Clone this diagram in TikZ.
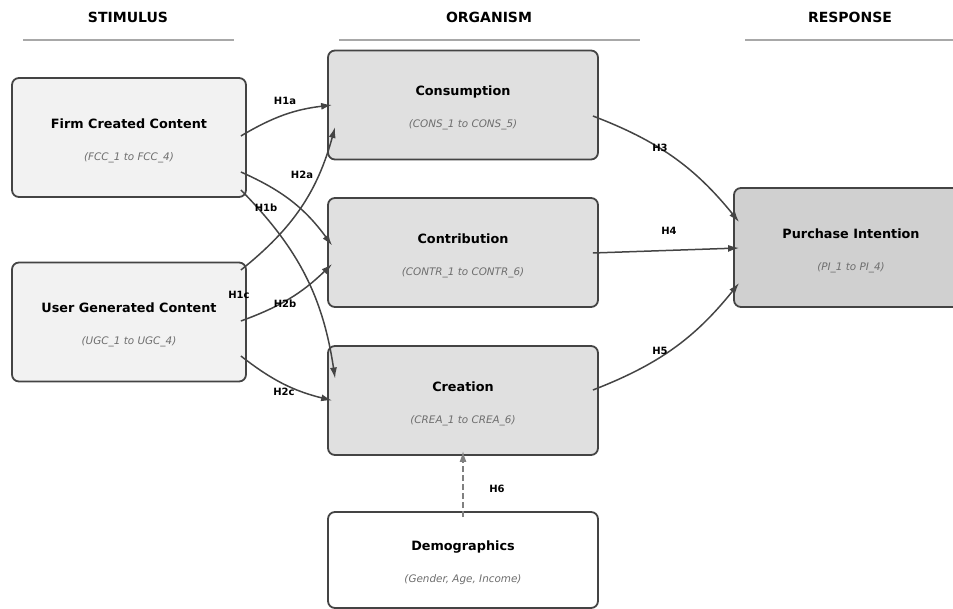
\documentclass[tikz,border=0pt]{standalone}
\usepackage{fontspec}
\setmainfont{DejaVu Sans}
\usepackage{xcolor}
\usepackage{tikz}
\usetikzlibrary{positioning,arrows.meta,calc}
\definecolor{edgegray}{HTML}{444444}
\definecolor{stimfill}{HTML}{F2F2F2}
\definecolor{orgfill}{HTML}{E0E0E0}
\definecolor{respfill}{HTML}{D0D0D0}
\definecolor{subgray}{HTML}{6E6E6E}
\definecolor{rulegray}{HTML}{A8A8A8}
\definecolor{dashgray}{HTML}{808080}
\newcommand{\boxtext}[2]{\rule{0pt}{16pt}#1\\{\fontsize{10.4}{12}\selectfont\mdseries\itshape\color{subgray}#2}}

\begin{document}
\begin{tikzpicture}[x=1pt,y=-1pt,
    construct/.style={draw=edgegray,line width=1.8pt,rounded corners=7pt,inner sep=0pt,align=center,
      font=\fontsize{12.8}{32}\selectfont\bfseries},
    stimbox/.style={construct,fill=stimfill,minimum width=234pt,minimum height=119pt},
    orgbox/.style={construct,fill=orgfill,minimum width=270pt,minimum height=109pt},
    respbox/.style={construct,fill=respfill,minimum width=234pt,minimum height=119pt},
    hyp/.style={-{Latex[length=11pt,width=7pt]},draw=edgegray,line width=1.5pt},
    hlabel/.style={font=\fontsize{10}{11}\selectfont\bfseries,inner sep=0pt},
    head/.style={font=\fontsize{14}{15}\selectfont\bfseries,inner sep=0pt},
    headrule/.style={draw=rulegray,line width=1.4pt}]
    \useasboundingbox (0,0) rectangle (953,609);
    \node[head] (hstim) at (128,17) {STIMULUS};
    \node[head] (horg)  at (489,17) {ORGANISM};
    \node[head] (hresp) at (850,17) {RESPONSE};
    \draw[headrule] (23,40) -- (234,40);
    \draw[headrule] (339,40) -- (640,40);
    \draw[headrule] (745,40) -- (953,40);
    \node[stimbox] (fcc) at (129,137.5) {\boxtext{Firm Created Content}{(FCC\_1 to FCC\_4)}};
    \node[stimbox] (ugc) at (129,322) {\boxtext{User Generated Content}{(UGC\_1 to UGC\_4)}};
    \node[orgbox] (cons)  at (463,105)   {\boxtext{Consumption}{(CONS\_1 to CONS\_5)}};
    \node[orgbox] (contr) at (463,252.5) {\boxtext{Contribution}{(CONTR\_1 to CONTR\_6)}};
    \node[orgbox] (crea)  at (463,400.5) {\boxtext{Creation}{(CREA\_1 to CREA\_6)}};
    \node[construct,fill=white,minimum width=270pt,minimum height=96pt] (demo) at (463,560) {\boxtext{Demographics}{(Gender, Age, Income)}};
    \node[respbox] (pi) at (851,247.5) {\boxtext{Purchase Intention}{(PI\_1 to PI\_4)}};
    \draw[hyp] ($(fcc.east)+(-6,-1.5)$) to[bend left=12] ($(cons.west)+(5,0)$);
    \draw[hyp] ($(fcc.east)+(-6,34.5)$) to[bend left=15] ($(contr.west)+(5,-7)$);
    \draw[hyp] ($(fcc.east)+(-6,52.5)$) to[bend left=18] ($(crea.west)+(8,-22)$);
    \draw[hyp] ($(ugc.east)+(-6,-52)$) to[bend right=18] ($(cons.west)+(8,22)$);
    \draw[hyp] ($(ugc.east)+(-6,-1)$) to[bend right=12] ($(contr.west)+(5,11.5)$);
    \draw[hyp] ($(ugc.east)+(-6,34)$) to[bend right=12] ($(crea.west)+(5,0)$);
    \draw[hyp] ($(cons.east)+(-6,11)$) to[bend left=15] ($(pi.west)+(6,-25.5)$);
    \draw[hyp] ($(contr.east)+(-6,0.5)$) -- ($(pi.west)+(6,0.5)$);
    \draw[hyp] ($(crea.east)+(-6,-10.5)$) to[bend right=15] ($(pi.west)+(6,35.5)$);
    \draw[hyp,draw=dashgray,dash pattern=on 6pt off 3pt] ($(demo.north)+(0,6)$) -- ($(crea.south)+(0,-5)$);
    \node[hlabel] (l1a) at (285,101) {H1a};
    \node[hlabel] (l1b) at (266,208) {H1b};
    \node[hlabel] (l1c) at (239,295) {H1c};
    \node[hlabel] (l2a) at (302,175) {H2a};
    \node[hlabel] (l2b) at (285,304) {H2b};
    \node[hlabel] (l2c) at (284,392) {H2c};
    \node[hlabel] (l3) at (660,148) {H3};
    \node[hlabel] (l4) at (669,231) {H4};
    \node[hlabel] (l5) at (660,351) {H5};
    \node[hlabel] (l6) at (497,489) {H6};
\end{tikzpicture}
\end{document}
